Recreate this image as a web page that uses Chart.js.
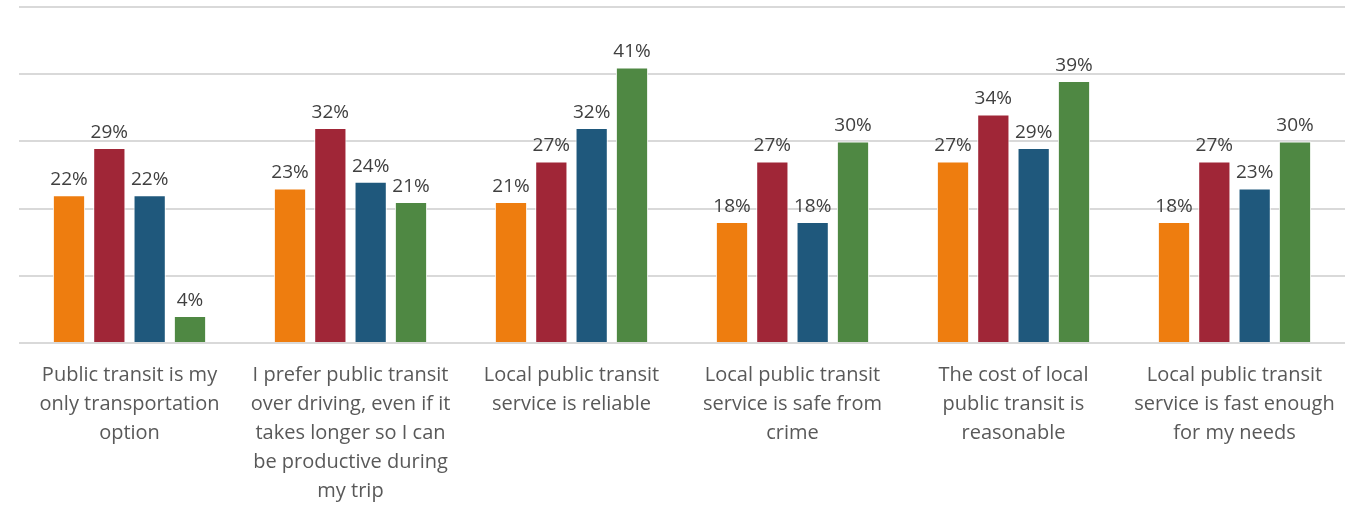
<!DOCTYPE html>
<html>
<head>
<meta charset="utf-8">
<script src="https://cdn.jsdelivr.net/npm/chart.js@4"></script>
<style>
  html, body { margin: 0; padding: 0; background: #fff; }
  #wrap { width: 1363px; height: 505px; }
</style>
</head>
<body>
<div id="wrap"><canvas id="myChart"></canvas></div>
<script>
// categories, wrapped the same way as in the picture
var categories = [
    ["Public transit is my", "only transportation", "option"],
    ["I prefer public transit", "over driving, even if it", "takes longer so I can", "be productive during", "my trip"],
    ["Local public transit", "service is reliable"],
    ["Local public transit", "service is safe from", "crime"],
    ["The cost of local", "public transit is", "reasonable"],
    ["Local public transit", "service is fast enough", "for my needs"]
];

var seriesOrange = [22, 23, 21, 18, 27, 18];
var seriesRed    = [29, 32, 27, 27, 34, 27];
var seriesBlue   = [22, 24, 32, 18, 29, 23];
var seriesGreen  = [4, 21, 41, 30, 39, 30];

var yMax = 50;
var yStep = 10;

var colors = ['#EE7D0F', '#A02637', '#1F587C', '#4F8843'];
var fontFamily = "'Open Sans', 'Noto Sans', sans-serif";

// draws the value above each bar
var valueLabels = {
    id: 'valueLabels',
    afterDatasetsDraw: function(chart) {
        var c = chart.ctx;
        c.save();
        c.font = '19px ' + fontFamily;
        c.fillStyle = '#404040';
        c.textAlign = 'center';
        c.textBaseline = 'bottom';
        chart.data.datasets.forEach(function(ds, i) {
            chart.getDatasetMeta(i).data.forEach(function(bar, j) {
                c.fillText(ds.data[j] + '%', bar.x, bar.y - 6);
            });
        });
        c.restore();
    }
};

function makeSet(name, values, color) {
    return {
        label: name,
        data: values,
        backgroundColor: color,
        borderColor: '#ffffff',
        borderWidth: 1,
        barPercentage: 0.8,
        categoryPercentage: 0.73
    };
}

var ctx = document.getElementById("myChart");
var myChart = new Chart(ctx, {
    type: 'bar',
    data: {
        labels: categories,
        datasets: [
            makeSet('A', seriesOrange, colors[0]),
            makeSet('B', seriesRed, colors[1]),
            makeSet('C', seriesBlue, colors[2]),
            makeSet('D', seriesGreen, colors[3])
        ]
    },
    options: {
        responsive: true,
        maintainAspectRatio: false,
        animation: false,
        layout: {
            padding: { left: 19, right: 18, top: 7, bottom: -11 }
        },
        plugins: {
            legend: { display: false },
            tooltip: { enabled: false }
        },
        scales: {
            x: {
                grid: { display: false },
                border: { display: false },
                ticks: {
                    color: '#595959',
                    font: { size: 20, family: fontFamily, lineHeight: 1.45 },
                    padding: 10,
                    maxRotation: 0,
                    autoSkip: false
                }
            },
            y: {
                min: 0,
                max: yMax,
                ticks: { display: false, stepSize: yStep },
                border: { display: false },
                grid: { color: '#d9d9d9', lineWidth: 2, drawTicks: false }
            }
        }
    },
    plugins: [valueLabels]
});
</script>
</body>
</html>
